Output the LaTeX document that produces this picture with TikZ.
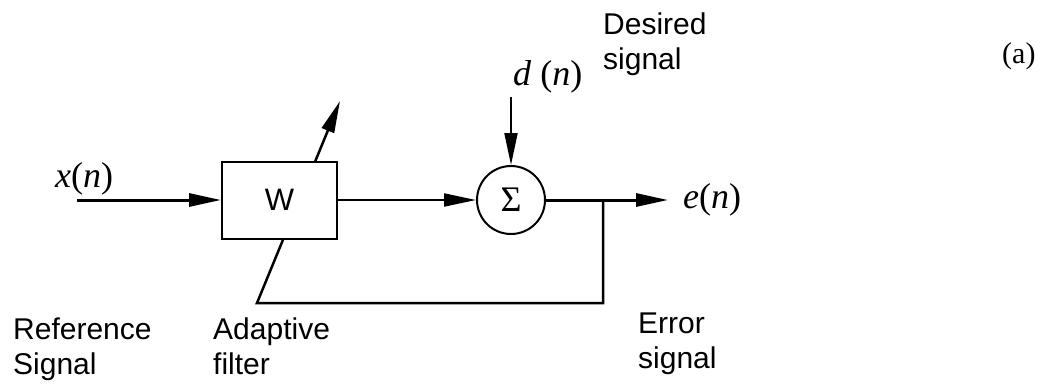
\documentclass[tikz,border=0pt]{standalone}
\usepackage{fontspec}
\setmainfont{Liberation Sans}
\newfontfamily\tm{Liberation Serif}
\usetikzlibrary{arrows.meta,backgrounds}
\begin{document}
\begin{tikzpicture}[x=1pt,y=-1pt,
  lbl/.style={font=\fontsize{30}{35}\selectfont, inner sep=0pt, anchor=north west, align=left},
  mth/.style={font=\tm\fontsize{36}{42}\selectfont, inner sep=0pt, anchor=base west},
  arr/.style={-{Triangle[length=32pt,width=13pt]}},
  sig/.style={line width=3pt},
  thin/.style={line width=2pt}]
\useasboundingbox (0,0) rectangle (1048,388);
\node[draw, thin, fill=white, minimum width=115pt, minimum height=77pt, inner sep=0pt,
      font=\fontsize{31}{36}\selectfont] (W) at (279.5,200) {W};
\node[draw, circle, thin, minimum size=68pt, inner sep=0pt,
      font=\tm\fontsize{36}{42}\selectfont] (S) at (511,200) {Σ};
\coordinate (xin) at (77,200);
\coordinate (din) at (511,97);
\coordinate (eout) at (668,200);
\coordinate (tap) at (603,200);
\coordinate (fb) at (603,303);
\coordinate (fbc) at (257,303);
\coordinate (tip) at (340,101);
\draw[sig, arr] (xin) -- (W.west);
\draw[thin, arr] (W.east) -- (S.west);
\draw[sig, arr] (S.east) -- (eout);
\draw[thin, arr] (din) -- (S.north);
\begin{scope}[on background layer]
\draw[line width=2.5pt, arr] (tap) -- (fb) -- (fbc) -- (tip);
\end{scope}
\node[mth] (xl) at (55,187) {\textit{x}(\textit{n})};
\node[mth] (dl) at (513,85) {\textit{d} (\textit{n})};
\node[mth] (el) at (683,208) {\textit{e}(\textit{n})};
\node[font=\tm\fontsize{30}{35}\selectfont, inner sep=0pt, anchor=base west] (a) at (1002,63) {(a)};
\node[lbl] (des) at (603,13) {Desired\\signal};
\node[lbl] (ref) at (13,318) {Reference\\Signal};
\node[lbl] (ada) at (213,318) {Adaptive\\filter};
\node[lbl] (err) at (638,313) {Error\\signal};
\end{tikzpicture}
\end{document}
